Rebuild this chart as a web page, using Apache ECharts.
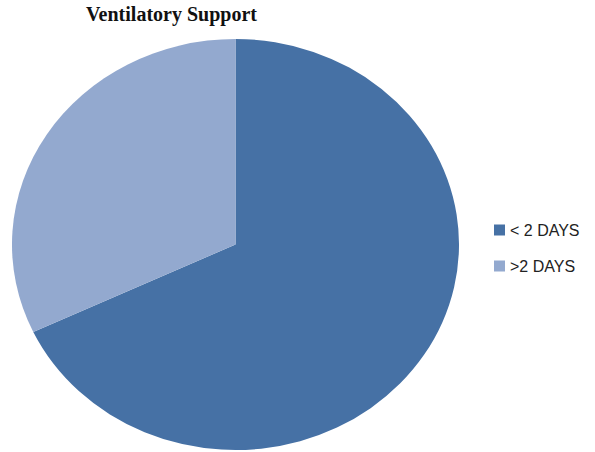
<!DOCTYPE html>
<html>
<head>
<meta charset="utf-8">
<script src="https://cdn.jsdelivr.net/npm/echarts@6/dist/echarts.min.js"></script>
<style>
  html, body { margin: 0; padding: 0; background: #ffffff; overflow: hidden; }
  #stage { position: relative; width: 595px; height: 452px; overflow: hidden; }
  /* the pie layer is squashed vertically so the pie reads as a slight ellipse */
  #pieLayer { position: absolute; left: 0; top: 0; width: 595px; height: 480px;
              transform: scaleY(0.9195); transform-origin: 0 244.5px; }
  #textLayer { position: absolute; left: 0; top: 0; width: 595px; height: 452px; }
</style>
</head>
<body>
<div id="stage">
  <div id="pieLayer"></div>
  <div id="textLayer"></div>
</div>
<script>
// Chart content
const chartTitle = 'Ventilatory Support';
const categories = ['< 2 DAYS', '>2 DAYS'];
const shares = [68, 32];
const sliceColors = ['#4671A5', '#93A9CF'];

const pieData = categories.map((name, i) => ({ name: name, value: shares[i] }));

// Pie itself
const pieChart = echarts.init(document.getElementById('pieLayer'), null, { renderer: 'svg' });
pieChart.setOption({
  animation: false,
  color: sliceColors,
  series: [{
    type: 'pie',
    center: [235.5, 244.5],
    radius: 223.5,
    startAngle: 90,
    clockwise: true,
    silent: true,
    label: { show: false },
    labelLine: { show: false },
    itemStyle: { borderWidth: 0 },
    emphasis: { disabled: true },
    data: pieData
  }]
});

// Title and legend, kept unscaled
const textChart = echarts.init(document.getElementById('textLayer'), null, { renderer: 'svg' });
textChart.setOption({
  animation: false,
  color: sliceColors,
  title: {
    text: chartTitle,
    left: 86,
    top: 4,
    padding: 0,
    textStyle: {
      fontFamily: 'Liberation Serif',
      fontWeight: 'bold',
      fontSize: 20,
      color: '#111111'
    }
  },
  legend: {
    orient: 'vertical',
    left: 494,
    top: 222,
    padding: 0,
    itemWidth: 11,
    itemHeight: 11,
    itemGap: 20,
    icon: 'rect',
    selectedMode: false,
    data: categories,
    textStyle: {
      fontFamily: 'Liberation Sans',
      fontSize: 16,
      color: '#222222'
    }
  },
  series: [{
    type: 'pie',
    center: [-100, -100],
    radius: 0,
    silent: true,
    label: { show: false },
    labelLine: { show: false },
    data: pieData
  }]
});
</script>
</body>
</html>
